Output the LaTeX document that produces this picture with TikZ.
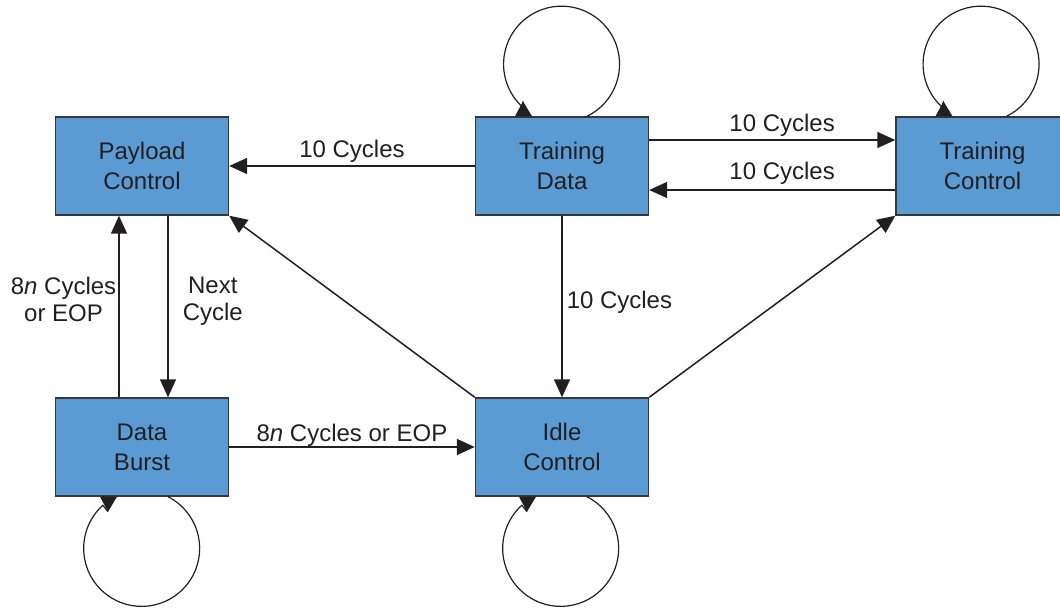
\documentclass[tikz,border=0pt]{standalone}
\usepackage{fontspec}
\setmainfont{Liberation Sans}
\usetikzlibrary{arrows.meta,calc}
\definecolor{boxblue}{RGB}{90,155,212}
\definecolor{boxedge}{RGB}{55,55,55}
\definecolor{ink}{RGB}{35,31,32}
\begin{document}
\begin{tikzpicture}[x=0.5pt,y=-0.5pt,
  state/.style={draw=boxedge, line width=0.7pt, fill=boxblue,
    minimum width=86.5pt, minimum height=49pt, inner sep=0pt,
    align=center, text=ink, font=\fontsize{12}{15}\selectfont},
  arr/.style={draw=ink, line width=0.75pt, -{Triangle[length=9pt,width=8pt]}},
  loopline/.style={draw=ink, line width=0.6pt},
  looptip/.style={fill=ink},
  lbl/.style={text=ink, inner sep=0pt, align=center,
    font=\fontsize{12}{13.5}\selectfont}]
\useasboundingbox (0,0) rectangle (1060,609);
\clip (0,0) rectangle (1060,609);

% states
\node[state] (pc) at (142,166)   {Payload\\Control};
\node[state] (td) at (562,166)   {Training\\Data};
\node[state] (tc) at (982.5,166) {Training\\Control};
\node[state] (db) at (142,447)   {Data\\Burst};
\node[state] (ic) at (562,447)   {Idle\\Control};

% transitions between states
\draw[arr] (td) -- (pc)
  node[lbl, midway, anchor=base, yshift=4pt] {10 Cycles};
\draw[arr] ($(td.east)+(0,-26)$) -- ($(tc.west)+(0,-26)$)
  node[lbl, pos=0.54, anchor=base, yshift=4pt] {10 Cycles};
\draw[arr] ($(tc.west)+(0,24)$) -- ($(td.east)+(0,24)$)
  node[lbl, pos=0.46, anchor=base, yshift=5pt] {10 Cycles};
\draw[arr] ($(pc.south)+(26,0)$) -- ($(db.north)+(26,0)$)
  node[lbl, pos=0.47, anchor=west, xshift=7pt] {Next\\Cycle};
\draw[arr] ($(db.north)+(-23,0)$) -- ($(pc.south)+(-23,0)$)
  node[lbl, pos=0.54, anchor=east, xshift=-1pt] {8\textit{n} Cycles\\or EOP};
\draw[arr] (td) -- (ic)
  node[lbl, midway, anchor=base west, xshift=2pt, yshift=-1pt] {10 Cycles};
\draw[arr] (db) -- (ic)
  node[lbl, midway, anchor=base, yshift=3pt] {8\textit{n} Cycles or EOP};
\draw[arr] (ic.north west) -- (pc.south east);
\draw[arr] (ic.north east) -- (tc.south west);

% self loops above a state: a circular loop ending on a small triangle
% that rests on the box edge
\draw[loopline] ($(td.north)+(25,0)$)
  arc[start angle=-64, end angle=228, radius=29pt] -- ($(td.north)+(-39,-15)$);
\fill[looptip] ($(td.north)+(-47,0)$) -- ($(td.north)+(-39,-15)$)
  -- ($(td.north)+(-30,0)$) -- cycle;

\draw[loopline] ($(tc.north)+(24,0)$)
  arc[start angle=-64, end angle=228, radius=29pt] -- ($(tc.north)+(-39,-15)$);
\fill[looptip] ($(tc.north)+(-47,0)$) -- ($(tc.north)+(-39,-15)$)
  -- ($(tc.north)+(-30,0)$) -- cycle;

% self loops below a state
\draw[loopline] ($(db.south)+(26,0)$)
  arc[start angle=63, end angle=-228, radius=29pt] -- ($(db.south)+(-34,15)$);
\fill[looptip] ($(db.south)+(-42,0)$) -- ($(db.south)+(-34,15)$)
  -- ($(db.south)+(-25,0)$) -- cycle;

\draw[loopline] ($(ic.south)+(25,0)$)
  arc[start angle=63, end angle=-228, radius=29pt] -- ($(ic.south)+(-35,15)$);
\fill[looptip] ($(ic.south)+(-43,0)$) -- ($(ic.south)+(-35,15)$)
  -- ($(ic.south)+(-26,0)$) -- cycle;
\end{tikzpicture}
\end{document}
